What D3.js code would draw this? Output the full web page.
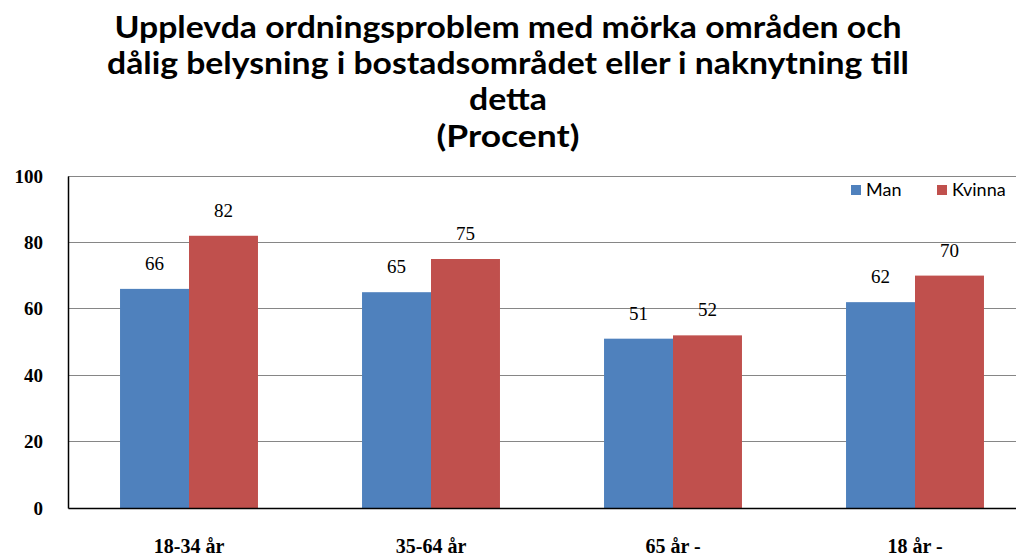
<!DOCTYPE html>
<html><head><meta charset="utf-8">
<script src="https://cdn.jsdelivr.net/npm/d3@7"></script>
<style>body{margin:0;background:#fff}svg{display:block}</style>
</head><body>
<svg id="c" width="1016" height="553"></svg>
<script>
const categories = ["18-34 år", "35-64 år", "65 år -", "18 år -"];
const series = ["Man", "Kvinna"];
const manValues = [66, 65, 51, 62];
const kvinnaValues = [82, 75, 52, 70];
const yTicks = [0, 20, 40, 60, 80, 100];
const titleLines = ["Upplevda ordningsproblem med mörka områden och", "dålig belysning i bostadsområdet eller i naknytning till", "detta", "(Procent)"];
const colors = ["#4F81BD", "#C0504D"];

const svg = d3.select("#c");
const x0 = d3.scaleBand().domain(categories).range([68, 1036]).paddingInner(0.43).paddingOuter(0.215);
const x1 = d3.scaleBand().domain(series).range([0, x0.bandwidth()]);
const y = d3.scaleLinear().domain([0, 100]).range([508, 176]);

// gridlines
svg.append("g").selectAll("line").data(yTicks.filter(d => d > 0)).join("line")
  .attr("x1", 68).attr("x2", 1016).attr("y1", d => y(d)).attr("y2", d => y(d))
  .attr("stroke", "#868686").attr("stroke-width", 1).attr("shape-rendering", "crispEdges");

const data = categories.map((c, i) => ({c, vals: [manValues[i], kvinnaValues[i]]}));
const g = svg.append("g").selectAll("g").data(data).join("g")
  .attr("transform", d => `translate(${x0(d.c)},0)`);
g.selectAll("rect").data(d => d.vals.map((v, j) => ({s: series[j], v, j}))).join("rect")
  .attr("x", d => x1(d.s)).attr("width", x1.bandwidth())
  .attr("y", d => y(d.v)).attr("height", d => y(0) - y(d.v))
  .attr("fill", d => colors[d.j]);
g.selectAll("text").data(d => d.vals.map((v, j) => ({s: series[j], v, j}))).join("text")
  .attr("x", d => x1(d.s) + x1.bandwidth() / 2).attr("y", d => y(d.v) - 19)
  .attr("text-anchor", "middle").attr("font-family", "Liberation Serif, serif")
  .attr("font-size", 19).attr("fill", "#000").text(d => d.v);

// axes
const yAxis = d3.axisLeft(y).tickValues(yTicks).tickSize(0).tickPadding(25);
const ya = svg.append("g").attr("transform", "translate(68,0)").call(yAxis);
ya.select(".domain").attr("stroke", "#000").attr("stroke-width", 1.5);
ya.selectAll("text").attr("font-family", "Liberation Serif, serif").attr("font-weight", "bold")
  .attr("font-size", 19).attr("fill", "#000");

const xAxis = d3.axisBottom(x0).tickSize(0).tickPadding(31);
const xa = svg.append("g").attr("transform", "translate(0,508)").call(xAxis);
xa.select(".domain").attr("stroke", "#000").attr("stroke-width", 1.5);
xa.selectAll("text").attr("font-family", "Liberation Serif, serif").attr("font-weight", "bold")
  .attr("font-size", 20).attr("fill", "#000");

// title
const tl = [{y: 38, w: 787}, {y: 74, w: 802}, {y: 110, w: 78}, {y: 147, w: 143}];
svg.append("g").selectAll("text").data(titleLines).join("text")
  .attr("x", 508).attr("y", (d, i) => tl[i].y).attr("text-anchor", "middle")
  .attr("font-family", "Lato, sans-serif").attr("font-weight", "bold").attr("font-size", 31)
  .attr("fill", "#000")
  .attr("textLength", (d, i) => tl[i].w).attr("lengthAdjust", "spacingAndGlyphs")
  .text(d => d);

// legend
const legX = [851, 937];
const lg = svg.append("g").selectAll("g").data(series).join("g")
  .attr("transform", (d, i) => `translate(${legX[i]},185)`);
lg.append("rect").attr("width", 10).attr("height", 10).attr("fill", (d, i) => colors[i]);
lg.append("text").attr("x", 15).attr("y", 11).attr("font-family", "Lato, sans-serif")
  .attr("font-size", 18).attr("fill", "#000").text(d => d);
</script>
</body></html>
